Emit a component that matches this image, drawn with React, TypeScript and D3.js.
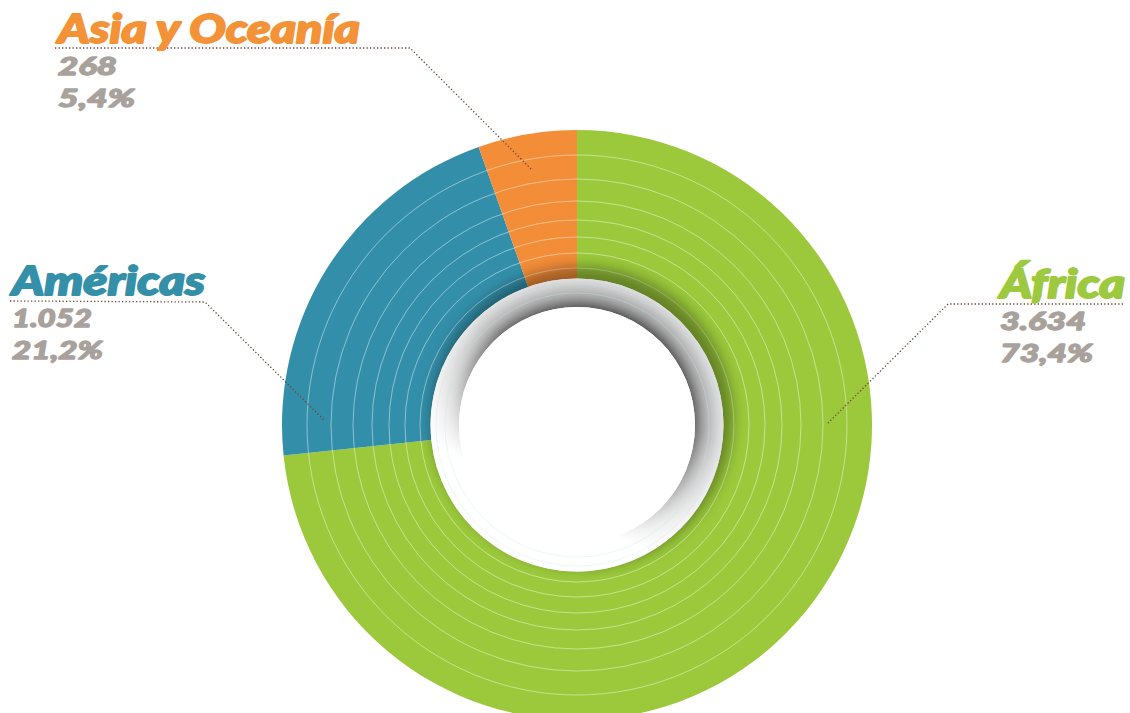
import React from "react";
import * as d3 from "d3";

const regions = ["África", "Américas", "Asia y Oceanía"];
const values = [3634, 1052, 268];
const valueLabels = ["3.634", "1.052", "268"];
const percentLabels = ["73,4%", "21,2%", "5,4%"];
const colors = ["#9BC93B", "#338FA9", "#F38D38"];
const titleColors = ["#9CC93D", "#3490A9", "#F39237"];

const W = 1130, H = 713;
const cx = 577, cy = 425;
const R = 295, r0 = 146.5, rHole = 118;
const ringRadii = [157, 172, 188, 205, 224, 246, 270];

const labelLayout = [
  { x: 1000, y: 298, tw: 125, nw: 86, pw: 93, leader: [[1123, 304], [948, 304], [828, 423]] },
  { x: 12, y: 295, tw: 193, nw: 80, pw: 91, leader: [[10, 301], [205, 302], [325, 421]] },
  { x: 58, y: 43, tw: 302, nw: 59, pw: 77, leader: [[55, 48], [410, 48], [532, 170]] },
];

export default function App() {
  const pie = d3.pie<number>().sort(null).value((d) => d);
  const arcs = pie(values);
  const arcGen = d3.arc<d3.PieArcDatum<number>>().innerRadius(r0).outerRadius(R);
  const annulus = d3.arc()({ innerRadius: rHole, outerRadius: r0, startAngle: 0, endAngle: Math.PI * 2 } as any) as string;
  const font = "Lato, 'Open Sans', sans-serif";
  return (
    <svg width={W} height={H} style={{ position: "absolute", left: 0, top: 0, background: "#fff" }}>
      <defs>
        <filter id="blur" x="-50%" y="-50%" width="200%" height="200%">
          <feGaussianBlur stdDeviation="7" />
        </filter>
        <clipPath id="outerClip">
          <circle cx={cx} cy={cy} r={R} />
        </clipPath>
        <radialGradient id="wall" gradientUnits="userSpaceOnUse" cx={0} cy={0} r={r0}>
          <stop offset="0.80" stopColor="#3d3d3d" stopOpacity="0.95" />
          <stop offset="0.88" stopColor="#777" stopOpacity="0.7" />
          <stop offset="1" stopColor="#bbb" stopOpacity="0.5" />
        </radialGradient>
        <linearGradient id="maskGrad" x1="0.75" y1="0" x2="0.25" y2="1">
          <stop offset="0" stopColor="#fff" />
          <stop offset="0.35" stopColor="#ccc" />
          <stop offset="0.75" stopColor="#000" />
        </linearGradient>
        <mask id="wallMask" maskContentUnits="userSpaceOnUse">
          <rect x={-r0} y={-r0} width={2 * r0} height={2 * r0} fill="url(#maskGrad)" />
        </mask>
      </defs>
      <g transform={`translate(${cx},${cy})`}>
        {arcs.map((a, i) => (
          <path key={regions[i]} d={arcGen(a) as string} fill={colors[i]} />
        ))}
        {ringRadii.map((rr) => (
          <circle key={rr} r={rr} fill="none" stroke="#fff" strokeOpacity={0.55} strokeWidth={0.8} />
        ))}
      </g>
      <g clipPath="url(#outerClip)">
        <circle cx={cx + 5} cy={cy - 8} r={r0 + 4} fill="#000" opacity={0.35} filter="url(#blur)" />
      </g>
      <g transform={`translate(${cx},${cy})`}>
        <circle r={r0} fill="#fff" />
        <path d={annulus} fill="url(#wall)" mask="url(#wallMask)" />
        <circle r={132} fill="none" stroke="#bfe9ee" strokeOpacity={0.6} strokeWidth={0.6} />
        <circle r={141} fill="none" stroke="#bfe9ee" strokeOpacity={0.6} strokeWidth={0.6} />
        <circle r={rHole} fill="#fff" />
      </g>
      {labelLayout.map((l, i) => (
        <g key={regions[i]}>
          <path
            d={d3.line()(l.leader as [number, number][]) as string}
            fill="none"
            stroke="#6b4636"
            strokeWidth={1.3}
            strokeDasharray="1.3 2.2"
          />
          <text x={l.x} y={l.y} fill={titleColors[i]} stroke={titleColors[i]} strokeWidth={1.8} strokeLinejoin="round"
            fontFamily={font} fontWeight={900} fontStyle="italic" fontSize={39}
            textLength={l.tw} lengthAdjust="spacingAndGlyphs">
            {regions[i]}
          </text>
          <text x={l.x} y={l.y + 32} fill="#A9A19C" stroke="#A9A19C" strokeWidth={1.3} strokeLinejoin="round"
            fontFamily={font} fontWeight={900} fontStyle="italic" fontSize={25}
            textLength={l.nw} lengthAdjust="spacingAndGlyphs">
            {valueLabels[i]}
          </text>
          <text x={l.x} y={l.y + 64} fill="#A9A19C" stroke="#A9A19C" strokeWidth={1.3} strokeLinejoin="round"
            fontFamily={font} fontWeight={900} fontStyle="italic" fontSize={25}
            textLength={l.pw} lengthAdjust="spacingAndGlyphs">
            {percentLabels[i]}
          </text>
        </g>
      ))}
    </svg>
  );
}
